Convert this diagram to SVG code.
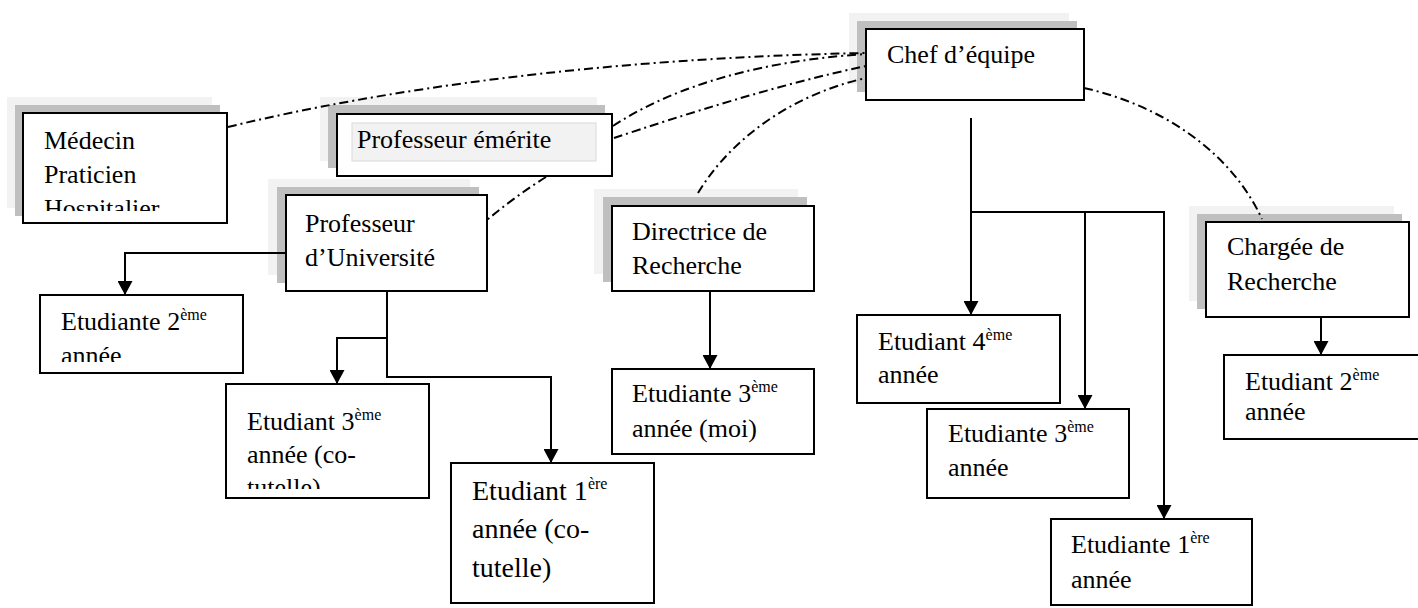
<svg xmlns="http://www.w3.org/2000/svg" width="1418" height="608" viewBox="0 0 1418 608">
<style>
.box{fill:#fff;stroke:#000;stroke-width:2}
.sh1{fill:#f2f2f2}
.sh2{fill:#bfbfbf}
.t{font-family:"Liberation Serif","Times New Roman",serif;font-size:26px;fill:#000}
.big{font-size:28px}
.sup{font-size:16px}
.ln{fill:none;stroke:#000;stroke-width:2}
.dd{fill:none;stroke:#000;stroke-width:2;stroke-dasharray:9 4 2 4}
</style>
<defs>
<marker id="arr" markerUnits="userSpaceOnUse" markerWidth="15" markerHeight="15" refX="14" refY="7.5" orient="auto">
<path d="M0,0 L14,7.5 L0,15 z" fill="#000"/>
</marker>
<clipPath id="cMed"><rect x="23" y="113" width="204" height="98"/></clipPath>
<clipPath id="cE2"><rect x="40" y="295" width="203" height="67"/></clipPath>
<clipPath id="cE3"><rect x="226" y="384" width="203" height="105"/></clipPath>
</defs>
<rect width="1418" height="608" fill="#fff"/>

<g id="medecin">
<rect class="sh1" x="7" y="97" width="205" height="111"/>
<rect class="sh2" x="15" y="105" width="205" height="111"/>
<rect class="box" x="23" y="113" width="204" height="110"/>
<g clip-path="url(#cMed)">
<text class="t" x="44" y="149">Médecin</text>
<text class="t" x="44" y="183">Praticien</text>
<text class="t" x="44" y="217">Hospitalier</text>
</g>
</g>

<g id="prof-emerite">
<rect class="sh1" x="320" y="97" width="277" height="64"/>
<rect class="sh2" x="328" y="105" width="277" height="63"/>
<rect class="box" x="337" y="114" width="275" height="62"/>
<rect x="352" y="123" width="244" height="38" fill="#f2f2f2" stroke="#d9d9d9" stroke-width="1"/>
<text class="t" x="357" y="148">Professeur émérite</text>
</g>

<g id="chef">
<rect class="sh1" x="849" y="13" width="220" height="71"/>
<rect class="sh2" x="857" y="21" width="220" height="71"/>
<rect class="box" x="866" y="29" width="218" height="71"/>
<text class="t" x="887" y="63">Chef d’équipe</text>
</g>

<g id="prof-univ">
<rect class="sh1" x="268" y="179" width="202" height="96"/>
<rect class="sh2" x="277" y="187" width="202" height="96"/>
<rect class="box" x="286" y="195" width="201" height="96"/>
<text class="t" x="305" y="232">Professeur</text>
<text class="t" x="305" y="266">d’Université</text>
</g>

<g id="directrice">
<rect class="sh1" x="594" y="189" width="204" height="85"/>
<rect class="sh2" x="603" y="197" width="204" height="85"/>
<rect class="box" x="612" y="206" width="202" height="85"/>
<text class="t" x="632" y="240">Directrice de</text>
<text class="t" x="632" y="274">Recherche</text>
</g>

<g id="chargee">
<rect class="sh1" x="1189" y="206" width="205" height="95"/>
<rect class="sh2" x="1197" y="214" width="205" height="95"/>
<rect class="box" x="1206" y="222" width="203" height="95"/>
<text class="t" x="1227" y="255">Chargée de</text>
<text class="t" x="1227" y="290">Recherche</text>
</g>

<g id="etudiante2-left">
<rect class="box" x="40" y="295" width="203" height="78"/>
<g clip-path="url(#cE2)">
<text class="t" x="61" y="330">Etudiante 2<tspan class="sup" dy="-10">ème</tspan></text>
<text class="t" x="61" y="364">année</text>
</g>
</g>

<g id="etudiant3-cotutelle">
<rect class="box" x="226" y="384" width="203" height="114"/>
<g clip-path="url(#cE3)">
<text class="t" x="247" y="430">Etudiant 3<tspan class="sup" dy="-10">ème</tspan></text>
<text class="t" x="247" y="463">année (co-</text>
<text class="t" x="247" y="496">tutelle)</text>
</g>
</g>

<g id="etudiant1-cotutelle">
<rect class="box" x="451" y="463" width="203" height="140"/>
<text class="t big" x="472" y="500">Etudiant 1<tspan class="sup" dy="-11" font-size="17">ère</tspan></text>
<text class="t big" x="472" y="538">année (co-</text>
<text class="t big" x="472" y="577">tutelle)</text>
</g>

<g id="etudiante3-moi">
<rect class="box" x="612" y="369" width="202" height="85"/>
<text class="t" x="632" y="402">Etudiante 3<tspan class="sup" dy="-10">ème</tspan></text>
<text class="t" x="632" y="437">année (moi)</text>
</g>

<g id="etudiant4">
<rect class="box" x="857" y="315" width="203" height="88"/>
<text class="t" x="878" y="350">Etudiant 4<tspan class="sup" dy="-10">ème</tspan></text>
<text class="t" x="878" y="383">année</text>
</g>

<g id="etudiante3-right">
<rect class="box" x="927" y="409" width="202" height="89"/>
<text class="t" x="948" y="442">Etudiante 3<tspan class="sup" dy="-10">ème</tspan></text>
<text class="t" x="948" y="476">année</text>
</g>

<g id="etudiante1-right">
<rect class="box" x="1051" y="519" width="201" height="86"/>
<text class="t" x="1071" y="553">Etudiante 1<tspan class="sup" dy="-10">ère</tspan></text>
<text class="t" x="1071" y="588">année</text>
</g>

<g id="etudiant2-right">
<rect class="box" x="1224" y="355" width="200" height="84"/>
<text class="t" x="1245" y="390">Etudiant 2<tspan class="sup" dy="-10">ème</tspan></text>
<text class="t" x="1245" y="420">année</text>
</g>

<g id="connectors">
<path class="ln" d="M285,253 H125 V295" marker-end="url(#arr)"/>
<path class="ln" d="M387,291 V377 H551 V463" marker-end="url(#arr)"/>
<path class="ln" d="M387,338 H337 V384" marker-end="url(#arr)"/>
<path class="ln" d="M710,291 V369" marker-end="url(#arr)"/>
<path class="ln" d="M971,118 V315" marker-end="url(#arr)"/>
<path class="ln" d="M971,212 H1164 V519" marker-end="url(#arr)"/>
<path class="ln" d="M1085,212 V409" marker-end="url(#arr)"/>
<path class="ln" d="M1321,317 V355" marker-end="url(#arr)"/>
<path class="dd" d="M228,127 C380,90 600,58 866,53"/>
<path class="dd" d="M613,126 C660,95 740,62 866,54"/>
<path class="dd" d="M614,138 C680,116 780,84 866,66"/>
<path class="dd" d="M698,193 C730,140 790,95 866,78"/>
<path class="dd" d="M546,177 C525,190 505,205 487,220"/>
<path class="dd" d="M1084,88 C1160,105 1230,150 1262,219"/>
</g>
</svg>
